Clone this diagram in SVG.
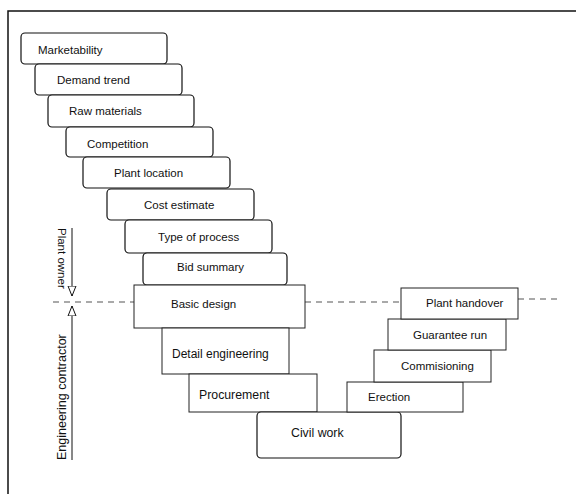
<svg xmlns="http://www.w3.org/2000/svg" width="576" height="494" viewBox="0 0 576 494">
<defs>
<style>
.rb{fill:#fff;stroke:#111;stroke-width:1.2}
.sq{fill:#fff;stroke:#222;stroke-width:1}
text{font-family:"Liberation Sans",Arial,sans-serif;fill:#111}
.t{font-size:11.5px}
.b{font-size:12.3px}
.dash{stroke:#555;stroke-width:1.2;stroke-dasharray:6,5;fill:none}
</style>
<marker id="tri" viewBox="0 0 10 10" refX="10" refY="5" markerWidth="10" markerHeight="10" markerUnits="userSpaceOnUse" orient="auto">
<path d="M0,1 L10,5 L0,9 Z" fill="#fff" stroke="#111" stroke-width="1"/>
</marker>
</defs>
<rect width="576" height="494" fill="#fff"/>
<path d="M8,494 V11 H576" fill="none" stroke="#111" stroke-width="1.5"/>

<g id="connectors">
<line class="dash" x1="53" y1="302" x2="134" y2="302"/>
<line class="dash" x1="305" y1="302" x2="401" y2="302"/>
<line class="dash" x1="518" y1="299" x2="562" y2="299"/>
<line x1="72" y1="228" x2="72" y2="296" stroke="#111" stroke-width="1" marker-end="url(#tri)"/>
<line x1="72" y1="460" x2="72" y2="306" stroke="#111" stroke-width="1" marker-end="url(#tri)"/>
</g>

<g id="label-owner"><text class="t" transform="translate(58,228) rotate(90)" font-size="11.3px">Plant owner</text></g>
<g id="label-contractor"><text transform="translate(66,460) rotate(-90)" font-size="12.5px">Engineering contractor</text></g>

<g id="n-marketability"><rect class="rb" x="21" y="33" width="146" height="31" rx="4"/><text class="t" x="38" y="54">Marketability</text></g>
<g id="n-demand"><rect class="rb" x="35" y="64" width="147" height="31" rx="4"/><text class="t" x="57" y="84">Demand trend</text></g>
<g id="n-raw"><rect class="rb" x="48" y="95" width="146" height="32" rx="4"/><text class="t" x="69" y="115">Raw materials</text></g>
<g id="n-competition"><rect class="rb" x="66" y="127" width="147" height="30" rx="4"/><text class="t" x="87" y="148">Competition</text></g>
<g id="n-location"><rect class="rb" x="83" y="157" width="147" height="31" rx="4"/><text class="t" x="114" y="177">Plant location</text></g>
<g id="n-cost"><rect class="rb" x="107" y="189" width="147" height="31" rx="4"/><text class="t" x="144" y="209">Cost estimate</text></g>
<g id="n-type"><rect class="rb" x="125" y="220" width="147" height="33" rx="4"/><text class="t" x="158" y="241">Type of process</text></g>
<g id="n-bid"><rect class="rb" x="143" y="253" width="144" height="32" rx="4"/><text class="t" x="177" y="271">Bid summary</text></g>
<g id="n-basic"><rect class="sq" x="134" y="285" width="171" height="43"/><text class="t" x="171" y="308" font-size="11.8px">Basic design</text></g>
<g id="n-detail"><rect class="sq" x="162" y="328" width="127" height="46"/><text x="172" y="358" font-size="12px">Detail engineering</text></g>
<g id="n-procurement"><rect class="sq" x="189" y="374" width="128" height="38"/><text class="b" x="199" y="399">Procurement</text></g>
<g id="n-civil"><rect class="rb" x="257" y="412" width="144" height="46" rx="4"/><text class="b" x="291" y="437">Civil work</text></g>
<g id="n-erection"><rect class="sq" x="347" y="382" width="116" height="30"/><text class="t" x="368" y="401">Erection</text></g>
<g id="n-commisioning"><rect class="sq" x="374" y="350" width="117" height="32"/><text class="t" x="401" y="370">Commisioning</text></g>
<g id="n-guarantee"><rect class="sq" x="388" y="319" width="118" height="31"/><text class="t" x="413" y="339">Guarantee run</text></g>
<g id="n-handover"><rect class="sq" x="401" y="288" width="117" height="31"/><text class="t" x="426" y="307">Plant handover</text></g>
</svg>
